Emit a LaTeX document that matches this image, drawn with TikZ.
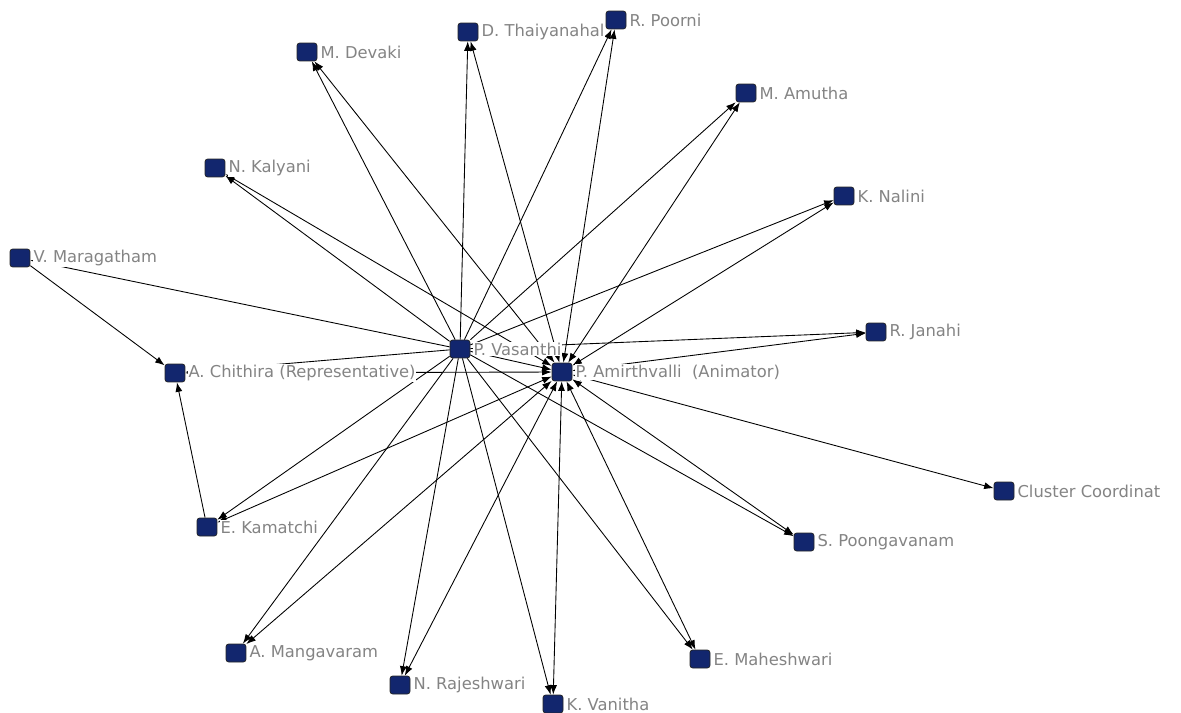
\documentclass[tikz,border=0pt]{standalone}
\usepackage{fontspec}
\newfontfamily\lblfont{DejaVu Sans}
\usetikzlibrary{arrows.meta,positioning}
\definecolor{nodeblue}{RGB}{18,38,110}
\definecolor{lblgray}{RGB}{132,132,132}
\pgfdeclarelayer{edges}
\pgfdeclarelayer{tags}
\pgfsetlayers{edges,tags,main}

\begin{document}
\begin{tikzpicture}[
		x=0.02cm, y=-0.02cm,
		actor/.style={rectangle, draw=black!85, fill=nodeblue, rounded corners=1.5pt,
				minimum width=0.4cm, minimum height=0.36cm, inner sep=0pt, line width=0.4pt},
		tag/.style={font=\lblfont\fontsize{9.3}{11}\selectfont, text=lblgray,
				fill=white, inner sep=0.5pt},
		arr/.style={-{Latex[length=1.9mm,width=1.4mm]}, line width=0.5pt},
		both/.style={{Latex[length=1.9mm,width=1.4mm]}-{Latex[length=1.9mm,width=1.4mm]}, line width=0.5pt},
		]
		\useasboundingbox (0,0) rectangle (1181,713);

		% Nodes
		\node[actor] (vas)  at (460,349) {};
		\node[actor] (ami)  at (562,372) {};
		\node[actor] (dev)  at (307,52)  {};
		\node[actor] (thai) at (468,32)  {};
		\node[actor] (poor) at (616,20)  {};
		\node[actor] (amu)  at (746,93)  {};
		\node[actor] (kal)  at (215,168) {};
		\node[actor] (nal)  at (844,196) {};
		\node[actor] (mar)  at (20,258)  {};
		\node[actor] (jan)  at (876,332) {};
		\node[actor] (chi)  at (175,373) {};
		\node[actor] (kam)  at (207,527) {};
		\node[actor] (clu)  at (1004,491) {};
		\node[actor] (poo)  at (804,542) {};
		\node[actor] (man)  at (236,653) {};
		\node[actor] (mah)  at (700,659) {};
		\node[actor] (raj)  at (400,685) {};
		\node[actor] (van)  at (553,704) {};

		% Names
		\begin{pgfonlayer}{tags}
			\node[tag, right=0.4mm of vas]  (vast)  {P. Vasanthi};
			\node[tag, right=0.4mm of ami]  (amit)  {P. Amirthvalli\ \ (Animator)};
			\node[tag, right=0.4mm of dev]  (devt)  {M. Devaki};
			\node[tag, right=0.4mm of thai] (thait) {D. Thaiyanahal};
			\node[tag, right=0.4mm of poor] (poort) {R. Poorni};
			\node[tag, right=0.4mm of amu]  (amut)  {M. Amutha};
			\node[tag, right=0.4mm of kal]  (kalt)  {N. Kalyani};
			\node[tag, right=0.4mm of nal]  (nalt)  {K. Nalini};
			\node[tag, right=0.4mm of mar]  (mart)  {V. Maragatham};
			\node[tag, right=0.4mm of jan]  (jant)  {R. Janahi};
			\node[tag, right=0.4mm of chi]  (chit)  {A. Chithira (Representative)};
			\node[tag, right=0.4mm of kam]  (kamt)  {E. Kamatchi};
			\node[tag, right=0.4mm of clu]  (clut)  {Cluster Coordinat};
			\node[tag, right=0.4mm of poo]  (poot)  {S. Poongavanam};
			\node[tag, right=0.4mm of man]  (mant)  {A. Mangavaram};
			\node[tag, right=0.4mm of mah]  (maht)  {E. Maheshwari};
			\node[tag, right=0.4mm of raj]  (rajt)  {N. Rajeshwari};
			\node[tag, right=0.4mm of van]  (vant)  {K. Vanitha};
		\end{pgfonlayer}

		% Arrows
		\begin{pgfonlayer}{edges}
			\foreach \t in {dev,thai,poor,amu,kal,nal,mar,jan,ami,chi,kam,poo,man,mah,raj,van}
				\draw[arr] (vas) -- (\t);
			\foreach \t in {dev,thai,poor,amu,kal,nal,jan,chi,kam,clu,poo,man,mah,raj,van}
				\draw[both] (ami) -- (\t);
			\draw[arr] (mar) -- (chi);
			\draw[arr] (kam) -- (chi);
		\end{pgfonlayer}
	\end{tikzpicture}
\end{document}
